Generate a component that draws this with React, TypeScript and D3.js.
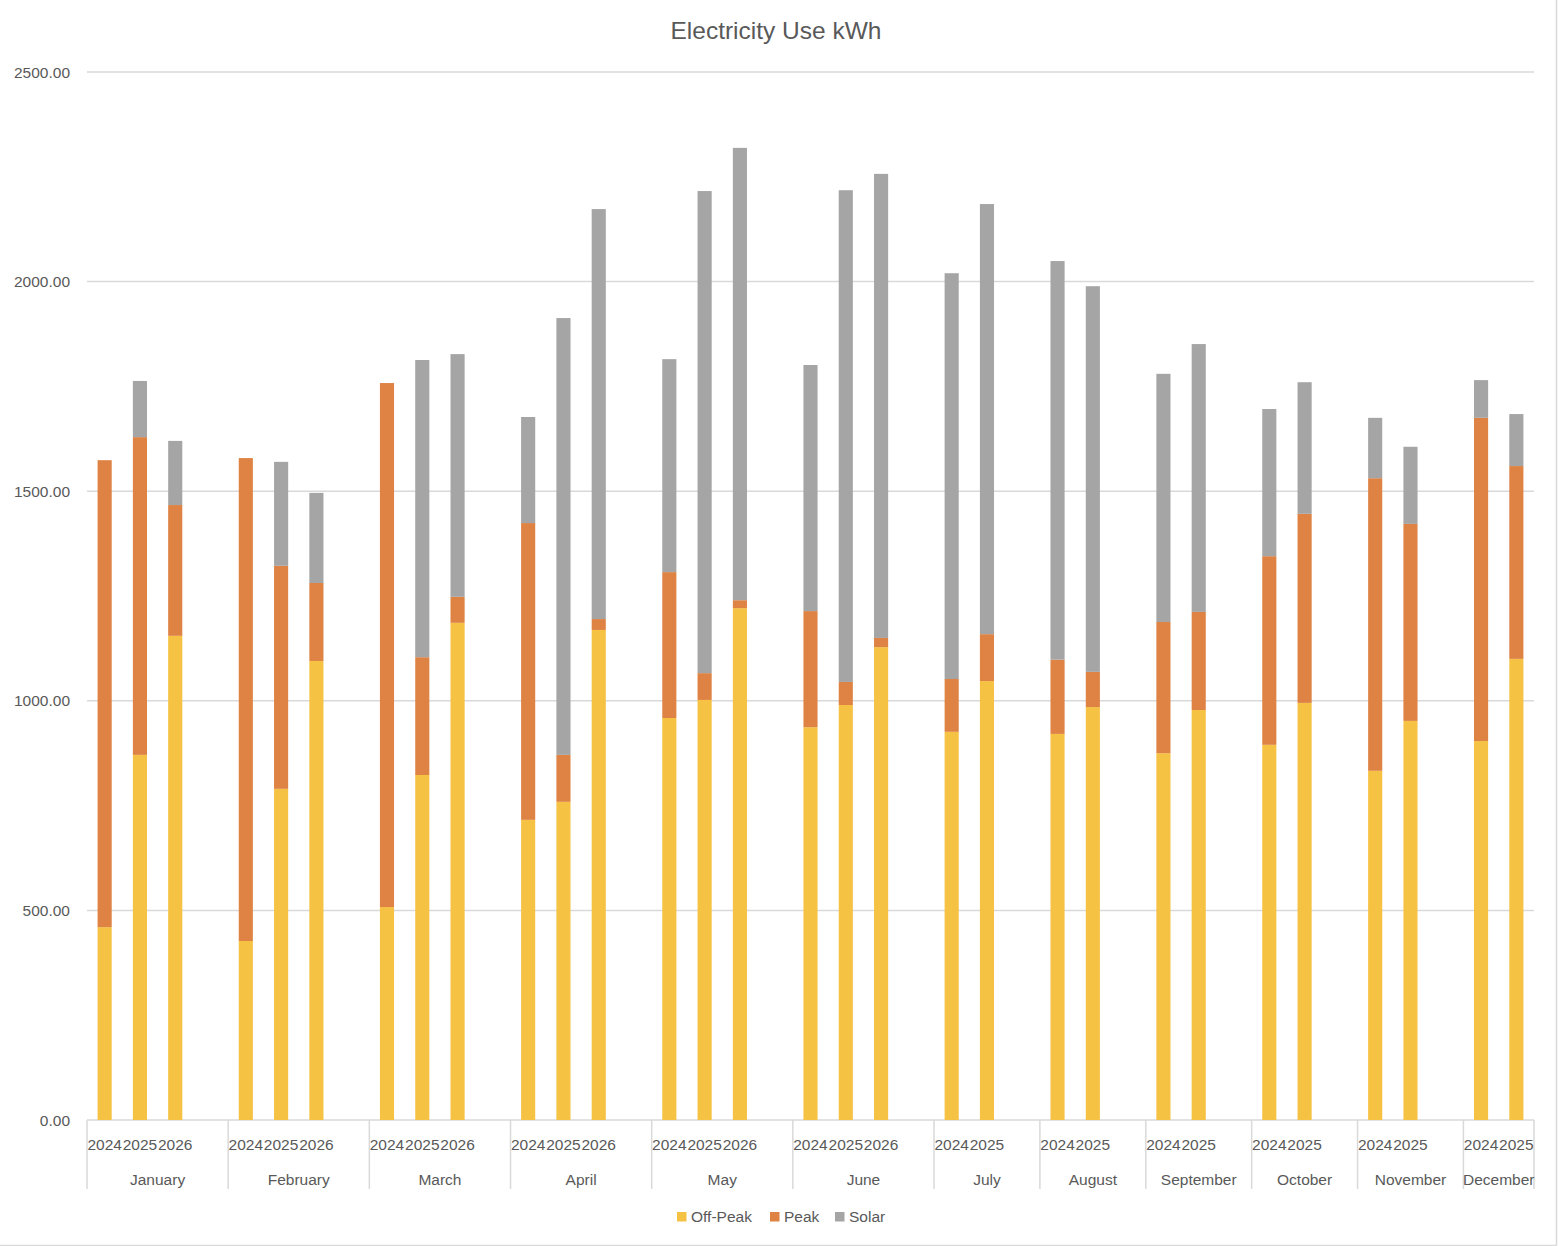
import * as d3 from "d3";

// ── Data ──────────────────────────────────────────────────────────────────────
const months = [
  "January", "February", "March", "April", "May", "June",
  "July", "August", "September", "October", "November", "December",
];

const monthYears: string[][] = [
  ["2024", "2025", "2026"], ["2024", "2025", "2026"], ["2024", "2025", "2026"],
  ["2024", "2025", "2026"], ["2024", "2025", "2026"], ["2024", "2025", "2026"],
  ["2024", "2025"], ["2024", "2025"], ["2024", "2025"],
  ["2024", "2025"], ["2024", "2025"], ["2024", "2025"],
];

const offPeak: number[][] = [
  [460, 871, 1155], [427, 790, 1095], [508, 823, 1186],
  [716, 759, 1169], [959, 1002, 1221], [937, 990, 1128],
  [926, 1047], [921, 985], [875, 978],
  [895, 995], [833, 952], [904, 1100],
];

const peak: number[][] = [
  [1114, 758, 312], [1152, 532, 186], [1250, 281, 62],
  [708, 112, 26], [348, 64, 19], [277, 55, 22],
  [126, 112], [177, 84], [313, 234],
  [450, 451], [698, 470], [771, 460],
];

const solar: number[][] = [
  [0, 134, 153], [0, 248, 215], [0, 709, 579],
  [253, 1042, 978], [508, 1150, 1079], [587, 1173, 1107],
  [968, 1026], [951, 920], [592, 639],
  [351, 314], [144, 184], [90, 124],
];

const seriesNames = ["Off-Peak", "Peak", "Solar"];
const seriesColors = ["#F5C243", "#DF8344", "#A5A5A5"];
const yTicks = [0, 500, 1000, 1500, 2000, 2500];

// ── Layout ────────────────────────────────────────────────────────────────────
const width = 1558;
const height = 1246;
const margin = { top: 72, left: 87, right: 24, bottom: 126 };
const font = "'Liberation Sans', Arial, sans-serif";
const textColor = "#595959";
const gridColor = "#D9D9D9";

// every month gets its year slots plus one blank slot, except the last
type Slot = { key: string; month: number; yearIdx: number | null };
const slots: Slot[] = [];
months.forEach((m, mi) => {
  monthYears[mi].forEach((y, yi) => slots.push({ key: `${m}-${y}`, month: mi, yearIdx: yi }));
  if (mi < months.length - 1) slots.push({ key: `${m}-blank`, month: mi, yearIdx: null });
});

export default function App() {
  const x = d3
    .scaleBand<string>()
    .domain(slots.map((s) => s.key))
    .range([margin.left, width - margin.right]);
  const y = d3
    .scaleLinear()
    .domain([0, 2500])
    .range([height - margin.bottom, margin.top]);

  const bw = x.bandwidth();
  const barW = bw / 2.5;
  const baseY = y(0);

  // stacked segments
  const stack = d3
    .stack<Slot>()
    .keys(["0", "1", "2"])
    .value((s, k) => {
      if (s.yearIdx === null) return 0;
      const src = [offPeak, peak, solar][+k];
      return src[s.month][s.yearIdx];
    });
  const stacked = stack(slots.filter((s) => s.yearIdx !== null));

  // month group boundaries
  const bounds: number[] = [];
  months.forEach((m, mi) => {
    const first = `${m}-${monthYears[mi][0]}`;
    bounds.push(x(first)!);
  });
  bounds.push(width - margin.right);

  const legendX = [677, 770, 835];

  return (
    <svg
      width={width}
      height={height}
      style={{ position: "absolute", left: 0, top: 0, background: "#fff" }}
      fontFamily={font}
    >
      {/* chart border */}
      <line x1={1556.5} x2={1556.5} y1={0} y2={1245.5} stroke={gridColor} strokeWidth={1.5} />
      <line x1={0} x2={1556.5} y1={1245.5} y2={1245.5} stroke={gridColor} strokeWidth={1.5} />

      {/* title */}
      <text x={776} y={39} textAnchor="middle" fontSize={24.5} fill={textColor}>
        Electricity Use kWh
      </text>

      {/* grid + y labels */}
      {yTicks.map((t) => (
        <g key={t}>
          <line
            x1={margin.left}
            x2={width - margin.right}
            y1={y(t)}
            y2={y(t)}
            stroke={gridColor}
            strokeWidth={1.5}
          />
          <text x={70} y={y(t) + 5.5} textAnchor="end" fontSize={15.5} fill={textColor}>
            {t.toFixed(2)}
          </text>
        </g>
      ))}

      {/* bars */}
      {stacked.map((layer, li) => (
        <g key={li} fill={seriesColors[li]}>
          {layer.map((d, i) => {
            const s = d.data;
            const h = y(d[0]) - y(d[1]);
            if (h <= 0) return null;
            return (
              <rect
                key={i}
                x={x(s.key)! + (bw - barW) / 2}
                y={y(d[1])}
                width={barW}
                height={h}
              />
            );
          })}
        </g>
      ))}

      {/* category axis */}
      {bounds.map((bx, i) => (
        <line
          key={i}
          x1={bx}
          x2={bx}
          y1={baseY}
          y2={baseY + 69}
          stroke={gridColor}
          strokeWidth={1.5}
        />
      ))}
      {slots
        .filter((s) => s.yearIdx !== null)
        .map((s) => (
          <text
            key={s.key}
            x={x(s.key)! + bw / 2}
            y={baseY + 30}
            textAnchor="middle"
            fontSize={15.5}
            fill={textColor}
          >
            {monthYears[s.month][s.yearIdx!]}
          </text>
        ))}
      {months.map((m, mi) => (
        <text
          key={m}
          x={(bounds[mi] + bounds[mi + 1]) / 2}
          y={baseY + 65}
          textAnchor="middle"
          fontSize={15.5}
          fill={textColor}
        >
          {m}
        </text>
      ))}

      {/* legend */}
      {seriesNames.map((n, i) => (
        <g key={n}>
          <rect x={legendX[i]} y={1212} width={9.5} height={9.5} fill={seriesColors[i]} />
          <text x={legendX[i] + 14} y={1222} fontSize={15.5} fill={textColor}>
            {n}
          </text>
        </g>
      ))}
    </svg>
  );
}
